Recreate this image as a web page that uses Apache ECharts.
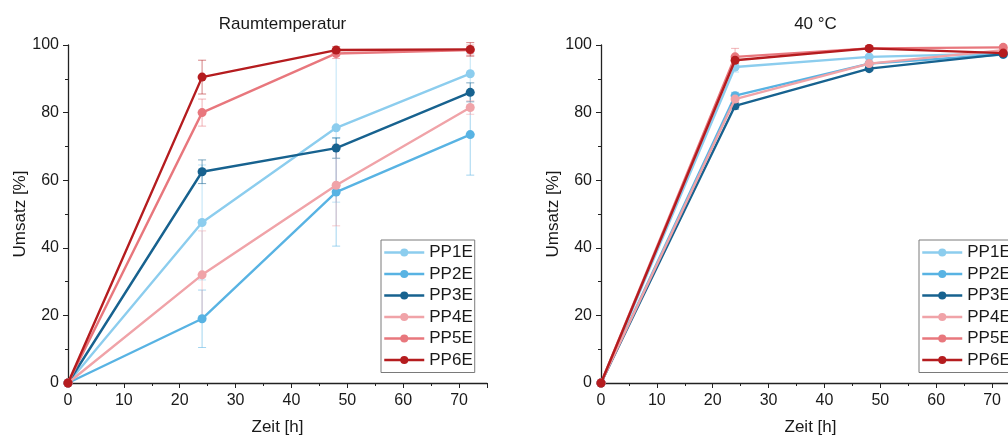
<!DOCTYPE html>
<html>
<head>
<meta charset="utf-8">
<script src="https://cdn.jsdelivr.net/npm/echarts@6/dist/echarts.min.js"></script>
<style>
  html, body { margin: 0; padding: 0; background: #fff; }
  #chart { width: 1008px; height: 436px; }
</style>
</head>
<body>
<div id="chart"></div>
<script>
// Reaction time points [h]
const zeit = [0, 24, 48, 72];
const names = ['PP1E', 'PP2E', 'PP3E', 'PP4E', 'PP5E', 'PP6E'];
const colors = ['#8ccdee', '#58b3e3', '#17628f', '#f0a3a8', '#e8777d', '#b51c1f'];

// Conversion [%] at room temperature
const rtPP1E = [0, 47.5, 75.5, 91.5];
const rtPP2E = [0, 19.0, 56.5, 73.5];
const rtPP3E = [0, 62.5, 69.5, 86.0];
const rtPP4E = [0, 32.0, 58.5, 81.5];
const rtPP5E = [0, 80.0, 97.5, 98.5];
const rtPP6E = [0, 90.5, 98.5, 98.7];
// Standard deviations at room temperature
const rtErrPP1E = [0, 17, 22, 6];
const rtErrPP2E = [0, 8.5, 16, 12];
const rtErrPP3E = [0, 3.5, 3, 2.8];
const rtErrPP4E = [0, 13, 12, 2];
const rtErrPP5E = [0, 4, 1.5, 1.5];
const rtErrPP6E = [0, 5, 1, 2];

// Conversion [%] at 40 °C
const t40PP1E = [0, 93.5, 96.5, 97.5];
const t40PP2E = [0, 85.0, 94.5, 97.2];
const t40PP3E = [0, 82.0, 93.0, 97.3];
const t40PP4E = [0, 84.0, 94.5, 98.5];
const t40PP5E = [0, 96.5, 99.0, 99.3];
const t40PP6E = [0, 95.5, 99.0, 97.6];
// Standard deviations at 40 °C
const t40ErrPP1E = [0, 1.5, 0.5, 0.5];
const t40ErrPP2E = [0, 1, 0.5, 0.5];
const t40ErrPP3E = [0, 1, 0.5, 0.5];
const t40ErrPP4E = [0, 1, 0.5, 0.5];
const t40ErrPP5E = [0, 2.5, 0.5, 0.5];
const t40ErrPP6E = [0, 1, 0.5, 0.5];

// Axis ticks
const xTicks = [0, 10, 20, 30, 40, 50, 60, 70];
const yTicks = [0, 20, 40, 60, 80, 100];

const rtValues = [rtPP1E, rtPP2E, rtPP3E, rtPP4E, rtPP5E, rtPP6E];
const rtErrors = [rtErrPP1E, rtErrPP2E, rtErrPP3E, rtErrPP4E, rtErrPP5E, rtErrPP6E];
const t40Values = [t40PP1E, t40PP2E, t40PP3E, t40PP4E, t40PP5E, t40PP6E];
const t40Errors = [t40ErrPP1E, t40ErrPP2E, t40ErrPP3E, t40ErrPP4E, t40ErrPP5E, t40ErrPP6E];

const FONT = '"Liberation Sans", Arial, sans-serif';
const panels = [
  { title: 'Raumtemperatur', left: 68, values: rtValues, errors: rtErrors, legendLeft: 381 },
  { title: '40 °C', left: 601, values: t40Values, errors: t40Errors, legendLeft: 919 }
];
const GRID_TOP = 45, GRID_H = 338, GRID_W = 419;

function errorBarSeries(panelIdx, sIdx, vals, errs) {
  return {
    type: 'custom',
    name: names[sIdx] + ' Fehler',
    xAxisIndex: panelIdx,
    yAxisIndex: panelIdx,
    z: 1,
    silent: true,
    color: colors[sIdx],
    data: zeit.map((t, i) => [t, vals[i], errs[i]]).filter(d => d[2] > 0),
    renderItem: function (params, api) {
      const x = api.value(0), y = api.value(1), e = api.value(2);
      const top = api.coord([x, y + e]);
      const bot = api.coord([x, y - e]);
      const half = 4;
      const style = { stroke: colors[sIdx], lineWidth: 1, opacity: 0.55 };
      return {
        type: 'group',
        children: [
          { type: 'line', shape: { x1: top[0], y1: top[1], x2: bot[0], y2: bot[1] }, style: style },
          { type: 'line', shape: { x1: top[0] - half, y1: top[1], x2: top[0] + half, y2: top[1] }, style: style },
          { type: 'line', shape: { x1: bot[0] - half, y1: bot[1], x2: bot[0] + half, y2: bot[1] }, style: style }
        ]
      };
    }
  };
}

const option = {
  animation: false,
  backgroundColor: '#fff',
  title: panels.map(p => ({
    text: p.title,
    left: p.left + GRID_W / 2,
    textAlign: 'center',
    top: 11,
    textStyle: { fontFamily: FONT, fontSize: 17, fontWeight: 'normal', color: '#1a1a1a' }
  })),
  legend: panels.map(p => ({
    data: names,
    orient: 'vertical',
    left: p.legendLeft,
    top: 240,
    padding: [4, 2, 4, 2],
    itemGap: 4.5,
    itemWidth: 40,
    itemHeight: 10,
    borderColor: '#7a7a7a',
    borderWidth: 1,
    selectedMode: false,
    itemStyle: { borderWidth: 0 },
    lineStyle: { width: 2.5 },
    textStyle: { fontFamily: FONT, fontSize: 17, color: '#1a1a1a', lineHeight: 17 }
  })),
  grid: panels.map(p => ({
    left: p.left, top: GRID_TOP, width: GRID_W, height: GRID_H,
    outerBoundsMode: 'none', containLabel: false
  })),
  xAxis: panels.map((p, i) => ({
    type: 'value',
    gridIndex: i,
    min: 0, max: 75, interval: 10,
    name: 'Zeit [h]',
    nameLocation: 'middle',
    nameGap: 36,
    nameTextStyle: { fontFamily: FONT, fontSize: 17, color: '#1a1a1a' },
    axisLine: { lineStyle: { color: '#222', width: 1.3 } },
    axisTick: { show: true, length: 5, lineStyle: { color: '#222' } },
    minorTick: { show: true, splitNumber: 2, length: 3, lineStyle: { color: '#222' } },
    axisLabel: {
      fontFamily: FONT, fontSize: 16, color: '#1a1a1a', margin: 10,
      showMaxLabel: false,
      formatter: v => (xTicks.indexOf(v) >= 0 ? String(v) : '')
    },
    splitLine: { show: false }
  })),
  yAxis: panels.map((p, i) => ({
    type: 'value',
    gridIndex: i,
    min: 0, max: 100, interval: 20,
    name: 'Umsatz [%]',
    nameLocation: 'middle',
    nameGap: 38,
    nameTextStyle: { fontFamily: FONT, fontSize: 17, color: '#1a1a1a' },
    axisLine: { show: true, lineStyle: { color: '#222', width: 1.3 } },
    axisTick: { show: true, length: 5, lineStyle: { color: '#222' } },
    minorTick: { show: true, splitNumber: 2, length: 3, lineStyle: { color: '#222' } },
    axisLabel: {
      fontFamily: FONT, fontSize: 16, color: '#1a1a1a', margin: 9,
      formatter: v => (yTicks.indexOf(v) >= 0 ? String(v) : '')
    },
    splitLine: { show: false }
  })),
  series: []
};

panels.forEach((p, pi) => {
  names.forEach((n, si) => {
    option.series.push({
      type: 'line',
      name: n,
      xAxisIndex: pi,
      yAxisIndex: pi,
      z: 2 + si,
      data: zeit.map((t, i) => [t, p.values[si][i]]),
      symbol: 'circle',
      symbolSize: 9,
      showSymbol: true,
      color: colors[si],
      lineStyle: { width: 2.4, color: colors[si] },
      itemStyle: { color: colors[si] }
    });
  });
  names.forEach((n, si) => {
    option.series.push(errorBarSeries(pi, si, p.values[si], p.errors[si]));
  });
});

const chart = echarts.init(document.getElementById('chart'), null, { renderer: 'canvas' });
chart.setOption(option);
</script>
</body>
</html>
